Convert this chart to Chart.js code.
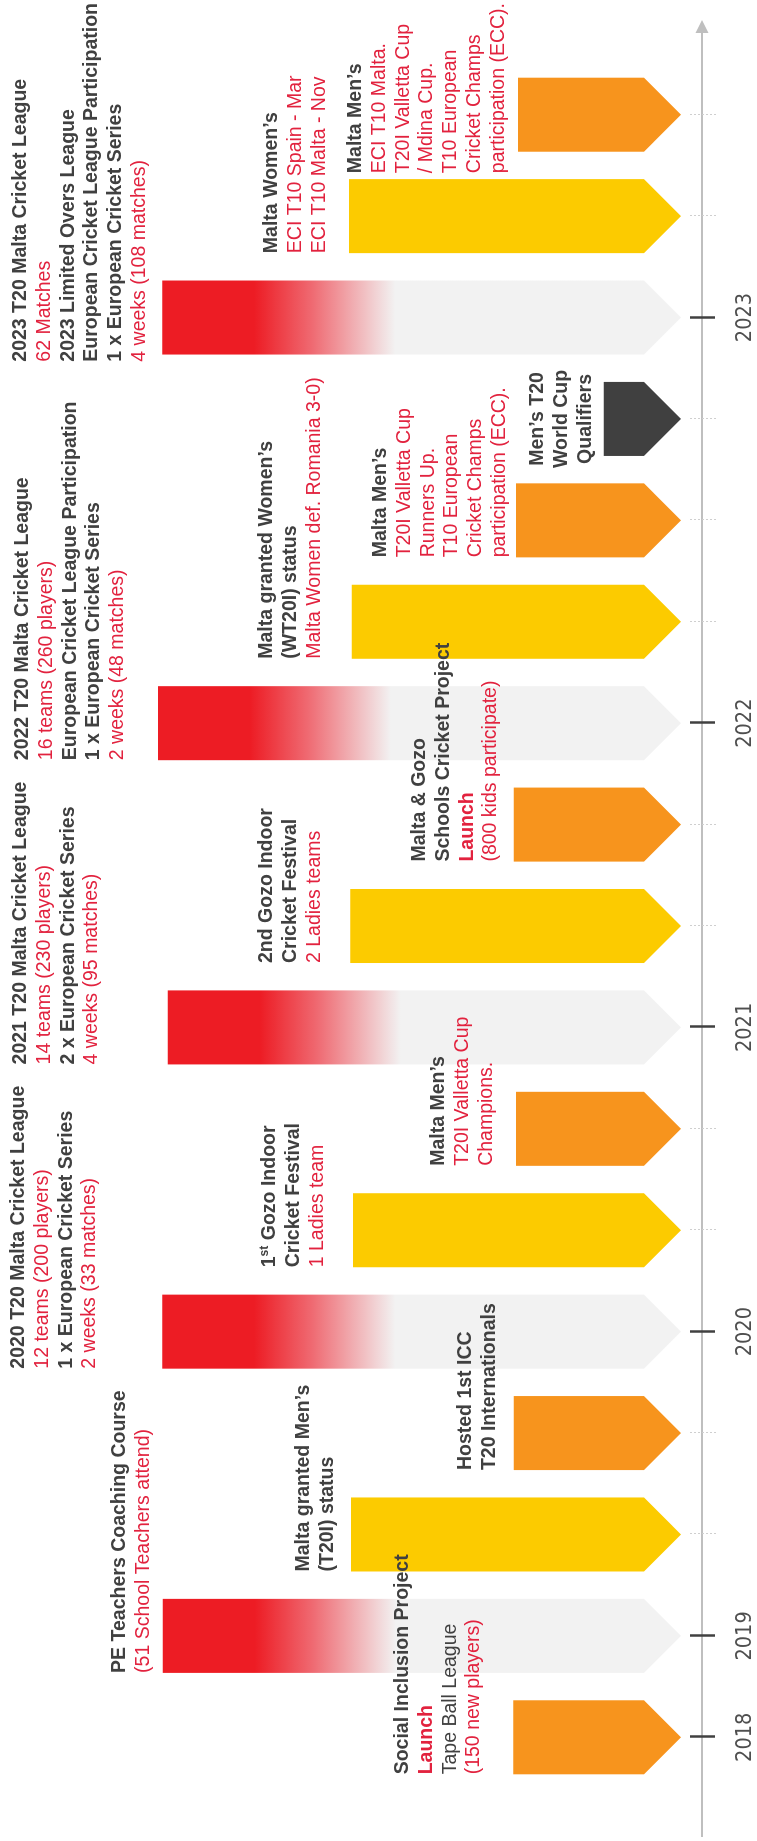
<!DOCTYPE html>
<html>
<head>
<meta charset="utf-8">
<script src="https://cdn.jsdelivr.net/npm/chart.js@4.4.1/dist/chart.umd.min.js"></script>
<style>
html,body{margin:0;padding:0;background:#ffffff;overflow:hidden;width:757px;height:1841px;}
#wrap{position:absolute;left:0;top:0;width:1841px;height:757px;transform-origin:0 0;transform:rotate(-90deg) translateX(-1841px);}
canvas{display:block;}
</style>
</head>
<body>
<div id="wrap"><canvas id="c" width="1841" height="757"></canvas></div>
<script>
// ---------- data ----------
const slotLabels = ['2018','2019','','','2020','','','2021','','','2022','','','','2023','',''];
const eventKind  = ['team','league','event','team','league','event','team','league','event','team','league','event','team','qualifier','league','event','team'];
const barTop     = [26.9, 76.8, 50.0, 26.8, 76.9, 49.7, 26.5, 76.1, 50.1, 26.8, 77.5, 49.9, 26.5, 14.0, 76.9, 50.3, 26.2];
const baseLevel  = 3.0;
const notes = [
  [['head','Social Inclusion Project'],['launch','Launch'],['body','Tape Ball League'],['hi','(150 new players)']],
  [['head','PE Teachers Coaching Course'],['hi','(51 School Teachers attend)']],
  [['head','Malta granted Men\u2019s'],['head','(T20I) status']],
  [['head','Hosted 1st ICC'],['head','T20 Internationals']],
  [['head','2020 T20 Malta Cricket League'],['hi','12 teams (200 players)'],['head','1 x European Cricket Series'],['hi','2 weeks (33 matches)']],
  [['head','1^{st} Gozo Indoor'],['head','Cricket Festival'],['hi','1 Ladies team']],
  [['head','Malta Men\u2019s'],['hi','T20I Valletta Cup'],['hi','Champions.']],
  [['head','2021 T20 Malta Cricket League'],['hi','14 teams (230 players)'],['head','2 x European Cricket Series'],['hi','4 weeks (95 matches)']],
  [['head','2nd Gozo Indoor'],['head','Cricket Festival'],['hi','2 Ladies teams']],
  [['head','Malta & Gozo'],['head','Schools Cricket Project'],['launch','Launch'],['hi','(800 kids participate)']],
  [['head','2022 T20 Malta Cricket League'],['hi','16 teams (260 players)'],['head','European Cricket League Participation'],['head','1 x European Cricket Series'],['hi','2 weeks (48 matches)']],
  [['head','Malta granted Women\u2019s'],['head','(WT20I) status'],['hi','Malta Women def. Romania 3-0)']],
  [['head','Malta Men\u2019s'],['hi','T20I Valletta Cup'],['hi','Runners Up.'],['hi','T10 European'],['hi','Cricket Champs'],['hi','participation (ECC).']],
  [['head','Men\u2019s T20'],['head','World Cup'],['head','Qualifiers']],
  [['head','2023 T20 Malta Cricket League'],['hi','62 Matches'],['head','2023 Limited Overs League'],['head','European Cricket League Participation'],['head','1 x European Cricket Series'],['hi','4 weeks (108 matches)']],
  [['head','Malta Women\u2019s'],['hi','ECI T10 Spain - Mar'],['hi','ECI T10 Malta - Nov']],
  [['head','Malta Men\u2019s'],['hi','ECI T10 Malta.'],['hi','T20I Valletta Cup'],['hi','/ Mdina Cup.'],['hi','T10 European'],['hi','Cricket Champs'],['hi','participation (ECC).']]
];

// ---------- layout / style (not data) ----------
const noteLayoutTop = [394, 111, 295, 457, 10, 261, 430, 12, 258, 411, 14, 258, 372, 529, 12, 263, 347];
const noteCentered  = [false,false,false,false,false,false,false,false,false,false,false,false,false,true,false,false,false];
const FONT_FAM = '"Liberation Sans", Arial, Helvetica, sans-serif';
const FS = 19.5, LH = 23.8;
const roleStyle = {
  head:   {weight:'bold',   color:'#404040'},
  body:   {weight:'normal', color:'#404040'},
  hi:     {weight:'normal', color:'#E2223E'},
  launch: {weight:'bold',   color:'#E2223E'}
};
const kindColor = {team:'#F7941D', event:'#FCCB00', qualifier:'#404040'};

function parseRich(text){
  const segs = []; const re = /\^\{(.*?)\}/g; let last = 0, m;
  while ((m = re.exec(text))){ if (m.index > last) segs.push({t:text.slice(last, m.index), sup:false}); segs.push({t:m[1], sup:true}); last = re.lastIndex; }
  if (last < text.length) segs.push({t:text.slice(last), sup:false});
  return segs;
}
function richWidth(ctx, segs, weight){
  let w = 0;
  segs.forEach(s => { ctx.font = weight + ' ' + (s.sup ? FS*0.62 : FS) + 'px ' + FONT_FAM; w += ctx.measureText(s.t).width; });
  return w;
}

const timelinePlugin = {
  id: 'timeline',
  afterDatasetsDraw(chart){
    const ctx = chart.ctx, xs = chart.scales.x, area = chart.chartArea;
    const axisY = area.bottom;
    ctx.save();
    // axis line with arrow
    ctx.strokeStyle = '#BFBFBF'; ctx.lineWidth = 2;
    ctx.beginPath(); ctx.moveTo(4, axisY); ctx.lineTo(chart.width - 30, axisY); ctx.stroke();
    ctx.fillStyle = '#BFBFBF';
    ctx.beginPath(); ctx.moveTo(chart.width - 20, axisY); ctx.lineTo(chart.width - 33, axisY - 6.5); ctx.lineTo(chart.width - 33, axisY + 6.5); ctx.closePath(); ctx.fill();
    // ticks
    slotLabels.forEach((lab, i) => {
      const x = Math.round(xs.getPixelForValue(i)) + 0.5;
      ctx.beginPath();
      if (lab) { ctx.setLineDash([]); ctx.strokeStyle = '#404040'; ctx.lineWidth = 2.5; ctx.moveTo(x, axisY - 12); ctx.lineTo(x, axisY + 13); }
      else { ctx.setLineDash([2, 2]); ctx.strokeStyle = '#CFCFCF'; ctx.lineWidth = 1; ctx.moveTo(x, axisY - 12); ctx.lineTo(x, axisY + 14); }
      ctx.stroke();
    });
    ctx.setLineDash([]);
    // arrow bars
    const meta = chart.getDatasetMeta(0);
    meta.data.forEach((el, i) => {
      const p = el.getProps(['x','y','base','width'], true);
      const top = Math.min(p.y, p.base), tip = Math.max(p.y, p.base);
      const half = p.width / 2, left = p.x - half, right = p.x + half, shoulder = tip - half;
      let fill;
      if (eventKind[i] === 'league') {
        const g = ctx.createLinearGradient(0, top, 0, tip);
        const L = tip - top;
        g.addColorStop(0, '#ED1C24');
        g.addColorStop(Math.min(1, 92 / L), '#ED1C24');
        g.addColorStop(Math.min(1, 150 / L), '#EF6A72');
        g.addColorStop(Math.min(1, 233 / L), '#F2F2F2');
        g.addColorStop(1, '#F2F2F2');
        fill = g;
      } else fill = kindColor[eventKind[i]];
      ctx.fillStyle = fill;
      ctx.beginPath();
      ctx.moveTo(left, top); ctx.lineTo(right, top); ctx.lineTo(right, shoulder);
      ctx.lineTo(p.x, tip); ctx.lineTo(left, shoulder); ctx.closePath(); ctx.fill();
    });
    // notes
    ctx.textBaseline = 'alphabetic';
    ctx.textAlign = 'left';
    notes.forEach((lines, i) => {
      const el = meta.data[i];
      const p = el.getProps(['x','width'], true);
      const parsed = lines.map(([role, txt]) => ({role, segs: parseRich(txt)}));
      parsed.forEach(l => { l.w = richWidth(ctx, l.segs, roleStyle[l.role].weight); });
      const maxW = Math.max(...parsed.map(l => l.w));
      let x0 = p.x - p.width / 2;
      if (!noteCentered[i]) { const over = x0 + maxW - (chart.width - 3); if (over > 0) x0 -= over; }
      parsed.forEach((l, k) => {
        const st = roleStyle[l.role];
        const yb = noteLayoutTop[i] + 14 + k * LH;
        let x = noteCentered[i] ? p.x - l.w / 2 : x0;
        ctx.fillStyle = st.color;
        l.segs.forEach(s => {
          const fs = s.sup ? FS * 0.62 : FS;
          ctx.font = st.weight + ' ' + fs + 'px ' + FONT_FAM;
          ctx.fillText(s.t, x, s.sup ? yb - FS * 0.38 : yb);
          x += ctx.measureText(s.t).width;
        });
      });
    });
    ctx.restore();
  }
};

new Chart(document.getElementById('c'), {
  type: 'bar',
  data: {
    labels: slotLabels,
    datasets: [{
      data: barTop.map(t => [baseLevel, t]),
      backgroundColor: 'rgba(0,0,0,0)',
      borderWidth: 0,
      barPercentage: 0.73,
      categoryPercentage: 1.0
    }]
  },
  options: {
    responsive: false,
    animation: false,
    layout: { padding: { left: 53, right: 64, top: 0, bottom: 0 } },
    plugins: { legend: { display: false }, tooltip: { enabled: false } },
    scales: {
      x: {
        grid: { display: false, drawTicks: false },
        border: { display: false },
        ticks: {
          autoSkip: false, maxRotation: 0, minRotation: 0, padding: 31,
          color: '#4F4F4F',
          font: { family: '"Liberation Sans Narrow", "Arial Narrow", "DejaVu Sans Condensed", sans-serif', size: 21.5 }
        },
        afterFit: s => { s.height = 55; }
      },
      y: { display: false, min: 0, max: 100 }
    }
  },
  plugins: [timelinePlugin]
});
</script>
</body>
</html>
